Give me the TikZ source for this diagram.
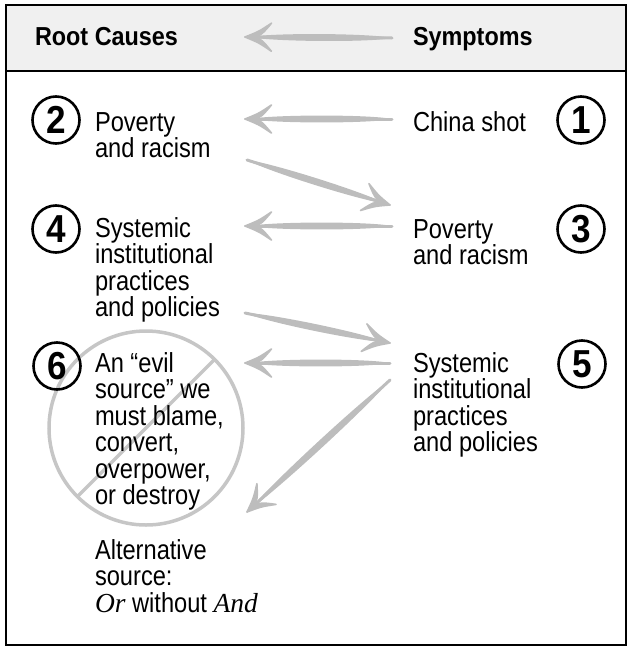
\documentclass[tikz,border=0pt]{standalone}
\usepackage{fontspec}
\setmainfont{Liberation Sans}[FakeStretch=0.86]
\newfontfamily\headfont{Liberation Sans}[FakeStretch=0.9]
\newfontfamily\timesit{Liberation Serif}
\usetikzlibrary{calc}

\definecolor{headgray}{HTML}{F0F0F0}
\definecolor{arrowgray}{HTML}{BDBDBD}
\definecolor{ringgray}{HTML}{C6C6C6}

% several left-aligned lines; the box baseline is the first line's baseline
\newcommand\txtlines[1]{\vtop{\baselineskip=26.5pt\lineskiplimit=-20pt\halign{##\hfil\cr#1\crcr}}}

% one curved barb of an arrow head: tail, tip, inner angle, end angle, outer angle
\newcommand\arrowbarb[5]{%
  \filldraw[arrowgray, line width=1.6pt, line join=round, line cap=round]
    (#2) .. controls ($(#2)!15pt!#3:(#1)$) .. ($(#2)!30pt!#4:(#1)$)
         .. controls ($(#2)!15pt!#5:(#1)$) .. cycle;
}

% brush-like gray arrow from a tail coordinate to a tip coordinate
\newcommand\grayarrow[2]{%
  \fill[arrowgray] (#1)
    .. controls ($(#1)!0.15!(#2)!4.6pt!90:(#2)$) and ($(#1)!0.8!(#2)!4.6pt!90:(#2)$) .. ($(#2)!4pt!(#1)$)
    .. controls ($(#1)!0.8!(#2)!4.6pt!-90:(#2)$) and ($(#1)!0.15!(#2)!4.6pt!-90:(#2)$) .. cycle;
  \draw[arrowgray, line width=3pt, line cap=round] (#1) -- ($(#2)!4pt!(#1)$);
  \arrowbarb{#1}{#2}{1}{28}{22}
  \arrowbarb{#1}{#2}{-1}{-28}{-22}
}

\begin{document}
\begin{tikzpicture}[x=1pt, y=-1pt,
  every node/.style={inner sep=0pt, outer sep=0pt},
  body/.style={anchor=base west, font=\fontsize{27.5}{26.5}\selectfont},
  headtext/.style={anchor=base west, font=\headfont\bfseries\fontsize{26}{30}\selectfont},
  numcirc/.style={circle, draw=black, line width=2.6pt, minimum size=47pt,
    font=\headfont\bfseries\fontsize{39}{39}\selectfont},
  frameline/.style={draw=black, line width=2.8pt},
  ring/.style={draw=ringgray, line width=3.5pt}
]
\useasboundingbox (0,0) rectangle (631,648);

% header band
\fill[headgray] (6,5) rectangle (626,71);

% crossed-out ring around the "evil source" text
\draw[ring] (146,428) circle[radius=97];
\draw[ring] ($(146,428)+(-45:97)$) -- ($(146,428)+(135:97)$);

% arrow end points
\coordinate (hat) at (392,38);   \coordinate (hah) at (245,37);
\coordinate (a1t) at (392,119);  \coordinate (a1h) at (245,119);
\coordinate (d1t) at (247,160);  \coordinate (d1h) at (390,205);
\coordinate (a2t) at (392,226);  \coordinate (a2h) at (245,226);
\coordinate (d2t) at (245,313);  \coordinate (d2h) at (390,343);
\coordinate (a3t) at (390,363);  \coordinate (a3h) at (245,363);
\coordinate (d3t) at (390,380);  \coordinate (d3h) at (247,512);

\grayarrow{hat}{hah}
\grayarrow{a1t}{a1h}
\grayarrow{d1t}{d1h}
\grayarrow{a2t}{a2h}
\grayarrow{d2t}{d2h}
\grayarrow{a3t}{a3h}
\grayarrow{d3t}{d3h}

% outer frame and header rule
\draw[frameline] (6,5) rectangle (626,645);
\draw[frameline] (6,71) -- (626,71);

% header titles
\node[headtext] (rc) at (35,45) {Root Causes};
\node[headtext] (sy) at (413,45) {Symptoms};

% step numbers
\node[numcirc] (c1) at (581,120) {1};
\node[numcirc] (c2) at (56,120) {2};
\node[numcirc] (c3) at (581,229) {3};
\node[numcirc] (c4) at (56,229) {4};
\node[numcirc] (c5) at (582,364) {5};
\node[numcirc] (c6) at (57,366) {6};

% left column: root causes
\node[body] (l1) at (95,131) {\txtlines{Poverty\cr and racism}};
\node[body] (l2) at (95,237) {\txtlines{Systemic\cr institutional\cr practices\cr and policies}};
\node[body] (l3) at (95,372) {\txtlines{An “evil\cr source” we\cr must blame,\cr convert,\cr overpower,\cr or destroy}};
\node[body] (alt) at (95,559) {\txtlines{Alternative\cr source:\cr {\timesit\itshape Or} without {\timesit\itshape And}}};

% right column: symptoms
\node[body] (r1) at (413,131) {China shot};
\node[body] (r2) at (413,238) {\txtlines{Poverty\cr and racism}};
\node[body] (r3) at (413,372) {\txtlines{Systemic\cr institutional\cr practices\cr and policies}};
\end{tikzpicture}
\end{document}
